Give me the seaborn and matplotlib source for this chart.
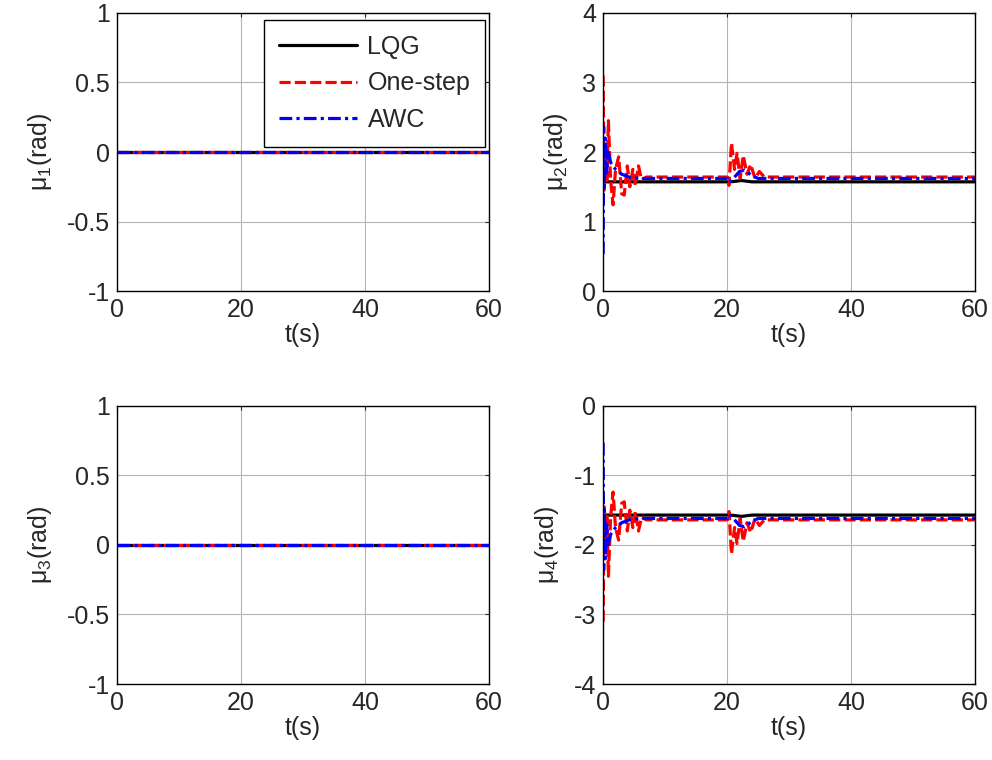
import matplotlib
matplotlib.use("Agg")
import matplotlib.pyplot as plt
import seaborn as sns
import pandas as pd

# valores (tiempo en s, angulo en rad)
t_flat = [0, 60]
mu_flat = [0, 0]

t2_lqg = [0, 20, 21, 22.3, 24, 60]
mu2_lqg = [1.571, 1.571, 1.575, 1.59, 1.571, 1.571]
t2_one = [0, 0.15, 0.35, 0.6, 0.85, 1.2, 1.6, 2.0, 2.5, 3.0, 3.4, 3.9, 4.3, 4.8, 5.2, 5.7, 6.2, 7.0,
          20.0, 20.3, 20.7, 21.2, 21.6, 22.1, 22.6, 23.2, 23.8, 24.5, 25.2, 26.0, 60]
mu2_one = [3.1, 1.45, 2.1, 1.55, 2.45, 1.6, 1.24, 1.75, 1.93, 1.4, 1.38, 1.8, 1.5, 1.75, 1.52, 1.8, 1.6, 1.64,
           1.64, 1.52, 2.13, 1.75, 1.98, 1.62, 1.95, 1.68, 1.82, 1.62, 1.72, 1.64, 1.64]
t2_awc = [0, 0.08, 0.2, 0.35, 0.55, 0.8, 1.2, 2.0, 3.0, 4.5, 6.0, 20.0, 20.3, 21.0, 22.0, 22.8, 24.0, 25.0, 60]
mu2_awc = [0.53, 2.36, 1.5, 2.2, 1.7, 2.0, 1.85, 1.75, 1.68, 1.63, 1.62, 1.62, 1.56, 1.62, 1.72, 1.74, 1.66, 1.62, 1.62]

t4_lqg = [0, 20, 21, 22.3, 24, 60]
mu4_lqg = [-1.571, -1.571, -1.575, -1.59, -1.571, -1.571]
t4_one = [0, 0.15, 0.35, 0.6, 0.85, 1.2, 1.6, 2.0, 2.5, 3.0, 3.4, 3.9, 4.3, 4.8, 5.2, 5.7, 6.2, 7.0,
          20.0, 20.3, 20.7, 21.2, 21.6, 22.1, 22.6, 23.2, 23.8, 24.5, 25.2, 26.0, 60]
mu4_one = [-3.1, -1.45, -2.1, -1.55, -2.45, -1.6, -1.24, -1.75, -1.93, -1.4, -1.38, -1.8, -1.5, -1.75, -1.52, -1.8, -1.6, -1.64,
           -1.64, -1.52, -2.13, -1.75, -1.98, -1.62, -1.95, -1.68, -1.82, -1.62, -1.72, -1.64, -1.64]
t4_awc = [0, 0.08, 0.2, 0.35, 0.55, 0.8, 1.2, 2.0, 3.0, 4.5, 6.0, 20.0, 20.3, 21.0, 22.0, 22.8, 24.0, 25.0, 60]
mu4_awc = [-0.53, -2.36, -1.5, -2.2, -1.7, -2.0, -1.85, -1.75, -1.68, -1.63, -1.62, -1.62, -1.56, -1.62, -1.72, -1.74, -1.66, -1.62, -1.62]

metodos = ["LQG", "One-step", "AWC"]
y_labels = ["μ$_1$(rad)", "μ$_2$(rad)", "μ$_3$(rad)", "μ$_4$(rad)"]
y_ticks = [[-1, -0.5, 0, 0.5, 1], [0, 1, 2, 3, 4], [-1, -0.5, 0, 0.5, 1], [-4, -3, -2, -1, 0]]
y_ticklabels = [["-1", "-0.5", "0", "0.5", "1"], ["0", "1", "2", "3", "4"],
                ["-1", "-0.5", "0", "0.5", "1"], ["-4", "-3", "-2", "-1", "0"]]
x_ticks = [0, 20, 40, 60]

paneles = [
    [(t_flat, mu_flat), (t_flat, mu_flat), (t_flat, mu_flat)],
    [(t2_lqg, mu2_lqg), (t2_one, mu2_one), (t2_awc, mu2_awc)],
    [(t_flat, mu_flat), (t_flat, mu_flat), (t_flat, mu_flat)],
    [(t4_lqg, mu4_lqg), (t4_one, mu4_one), (t4_awc, mu4_awc)],
]

sns.set_style("white")
plt.rcParams["font.family"] = ["Liberation Sans", "DejaVu Sans"]
plt.rcParams["mathtext.fontset"] = "custom"
plt.rcParams["mathtext.rm"] = "Liberation Sans"
plt.rcParams["mathtext.it"] = "Liberation Sans"

colores = {"LQG": "black", "One-step": "red", "AWC": "blue"}
lineas = {"LQG": "", "One-step": (3.5, 1.3), "AWC": (4, 1.3, 1, 1.3)}
fs = 18

fig = plt.figure(figsize=(9.92, 7.6), dpi=100)
posiciones = [[0.118, 0.617, 0.375, 0.366], [0.608, 0.617, 0.375, 0.366],
              [0.118, 0.100, 0.375, 0.366], [0.608, 0.100, 0.375, 0.366]]

for i, pos in enumerate(posiciones):
    ax = fig.add_axes(pos)
    filas = []
    for m, (tt, yy) in zip(metodos, paneles[i]):
        for a, b in zip(tt, yy):
            filas.append({"t": a, "mu": b, "metodo": m})
    df = pd.DataFrame(filas)
    sns.lineplot(data=df, x="t", y="mu", hue="metodo", style="metodo", palette=colores,
                 dashes=lineas, estimator=None, sort=False, linewidth=2.3, ax=ax,
                 legend=(i == 0))
    ax.set_xlim(0, 60)
    ax.set_ylim(y_ticks[i][0], y_ticks[i][-1])
    ax.set_xticks(x_ticks)
    ax.set_xticklabels([str(x) for x in x_ticks])
    ax.set_yticks(y_ticks[i])
    ax.set_yticklabels(y_ticklabels[i])
    ax.grid(True, color="#b4b4b4", linewidth=0.8)
    ax.tick_params(direction="in", length=3, top=True, right=True, labelsize=fs, pad=5)
    for s in ax.spines.values():
        s.set_color("black")
        s.set_linewidth(1.0)
    ax.set_xlabel("t(s)", fontsize=fs, labelpad=1)
    ax.set_ylabel(y_labels[i], fontsize=fs, labelpad=9)

    if i == 0:
        handles, labels = ax.get_legend_handles_labels()
        hl = [(h, l) for h, l in zip(handles, labels) if l in metodos]
        leg = ax.legend([h for h, l in hl], [l for h, l in hl], loc="upper right",
                        bbox_to_anchor=(0.99, 0.975), borderaxespad=0, fontsize=fs, frameon=True,
                        fancybox=False, edgecolor="black", framealpha=1,
                        handlelength=3.15, borderpad=0.6, labelspacing=0.5, handletextpad=0.4)
        leg.get_frame().set_linewidth(1.0)
        for h in leg.get_lines():
            h.set_linewidth(2.3)

fig.savefig("out.png", dpi=100)
